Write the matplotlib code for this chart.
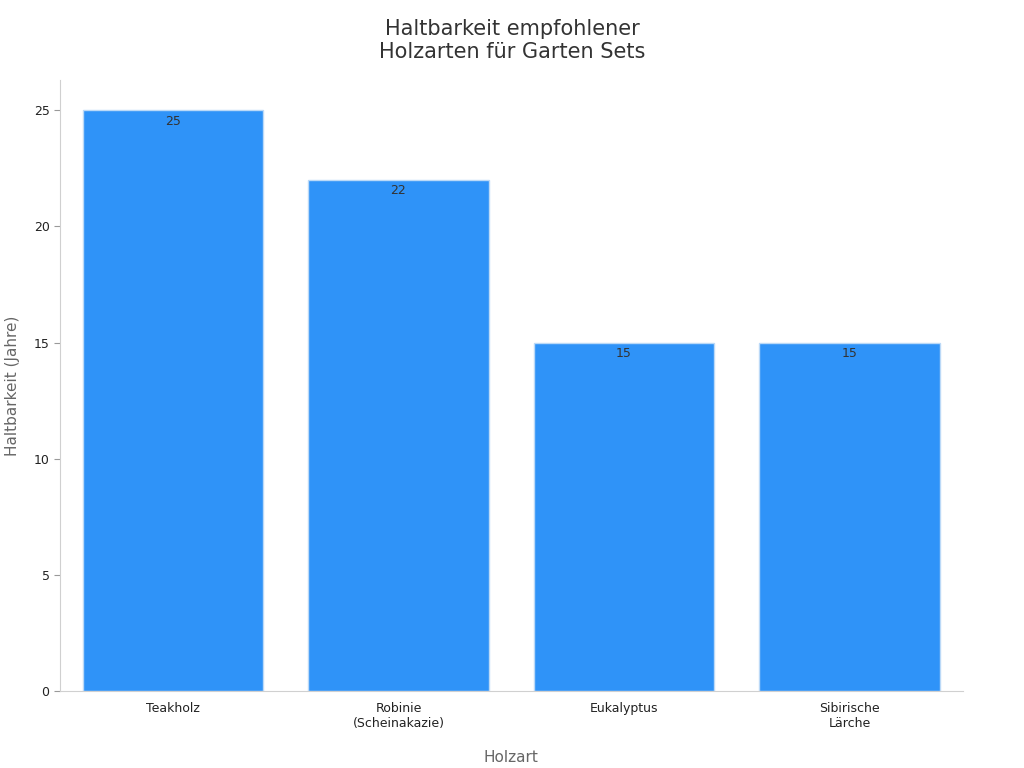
import matplotlib.pyplot as plt

# data
woods = ['Teakholz', 'Robinie\n(Scheinakazie)', 'Eukalyptus', 'Sibirische\nLärche']
years = [25, 22, 15, 15]

fig = plt.figure(figsize=(10.24, 7.68), dpi=100)
ax = fig.add_axes([0.0586, 0.100, 0.8814, 0.796])

bars = ax.bar(range(len(woods)), years, width=0.8, color='#2F93F8', edgecolor='#BBD9F7', linewidth=1)
for b, v in zip(bars, years):
    ax.text(b.get_x() + b.get_width() / 2, v - 0.2, str(v), ha='center', va='top', fontsize=9, color='#333333')

ax.set_xlim(-0.5, 3.5)
ax.set_ylim(0, 26.3)
ax.set_xticks(range(len(woods)))
ax.set_xticklabels(woods, fontsize=9, color='#222222')
ax.set_yticks([0, 5, 10, 15, 20, 25])
ax.tick_params(axis='y', labelsize=9, colors='#222222', length=4, color='#999999')
ax.tick_params(axis='x', length=0, pad=8)

for s in ['top', 'right']:
    ax.spines[s].set_visible(False)
for s in ['left', 'bottom']:
    ax.spines[s].set_color('#D0D0D0')

ax.set_xlabel('Holzart', fontsize=11, color='#666666', labelpad=14)
ax.set_ylabel('Haltbarkeit (Jahre)', fontsize=11, color='#666666', labelpad=10)
fig.suptitle('Haltbarkeit empfohlener\nHolzarten für Garten Sets', fontsize=15, color='#333333', y=0.975)

fig.savefig('out.png', dpi=100)
